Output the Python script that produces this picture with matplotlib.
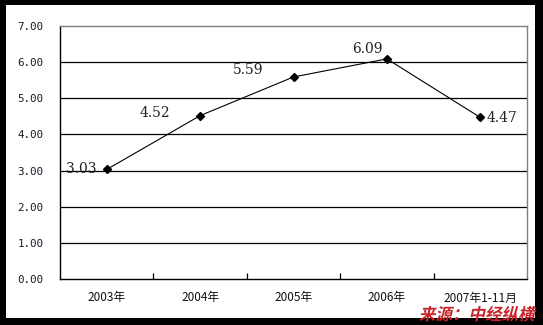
import matplotlib.pyplot as plt
from matplotlib.patches import Rectangle, PathPatch
from matplotlib.textpath import TextPath
from matplotlib.font_manager import FontProperties
from matplotlib.transforms import Affine2D, IdentityTransform

plt.rcParams['font.family'] = ['Noto Sans CJK SC', 'DejaVu Sans']

categories = ["2003年", "2004年", "2005年", "2006年", "2007年1-11月"]
values = [3.03, 4.52, 5.59, 6.09, 4.47]
labels = ["3.03", "4.52", "5.59", "6.09", "4.47"]
# label offsets in pixels (Excel-style placement)
label_offsets = [(-25, 0), (-45, 3), (-45, 7), (-20, 10), (22, -1)]

fig = plt.figure(figsize=(5.43, 3.25), dpi=100)
fig.patch.set_facecolor("black")
fig.patches.append(Rectangle((6, 7), 529, 313, transform=IdentityTransform(),
                             facecolor="white", edgecolor="none", zorder=-10))

ax = fig.add_axes([60 / 543, 1 - 279 / 325, 467 / 543, 253 / 325])
ax.set_zorder(1)
x = list(range(len(categories)))
ax.set_xlim(-0.5, len(categories) - 0.5)
ax.set_ylim(0, 7)

for yv in range(1, 7):
    ax.axhline(yv, color="black", lw=0.9, zorder=1)

ax.plot(x, values, color="black", lw=0.8, marker="D", markersize=4.2, zorder=3)

for xi, v, lab, off in zip(x, values, labels, label_offsets):
    ax.annotate(lab, (xi, v), xytext=off, textcoords="offset pixels",
                ha="center", va="center", fontsize=10, family="DejaVu Serif",
                color="#222222", zorder=4)

ax.set_yticks(range(0, 8))
ax.set_yticklabels([f"{v:.2f}" for v in range(0, 8)], family="DejaVu Sans Mono",
                   fontsize=7.8, color="#1a1a2a")
ax.tick_params(axis="y", length=0, pad=12)

ax.set_xticks(x)
ax.set_xticklabels(categories, fontsize=8.5, color="#111111")
ax.tick_params(axis="x", which="major", length=0, pad=9)
ax.set_xticks([i - 0.5 for i in range(1, len(categories))], minor=True)
ax.tick_params(axis="x", which="minor", direction="in", length=4, width=0.9, color="black")

for side in ["left", "bottom"]:
    ax.spines[side].set_color("black")
    ax.spines[side].set_linewidth(1.0)
for side in ["top", "right"]:
    ax.spines[side].set_color("#808080")
    ax.spines[side].set_linewidth(1.0)

# watermark
tp = TextPath((0, 0), "来源：中经纵横", size=16.5,
              prop=FontProperties(family="Noto Sans CJK SC", weight="bold"))
tr = Affine2D().skew_deg(12, 0).translate(419, 5)
patch = PathPatch(tr.transform_path(tp), transform=IdentityTransform(),
                  facecolor="#c8242b", edgecolor="none", zorder=10)
fig.patches.append(patch)

fig.savefig("out.png", dpi=100, facecolor=fig.get_facecolor())
